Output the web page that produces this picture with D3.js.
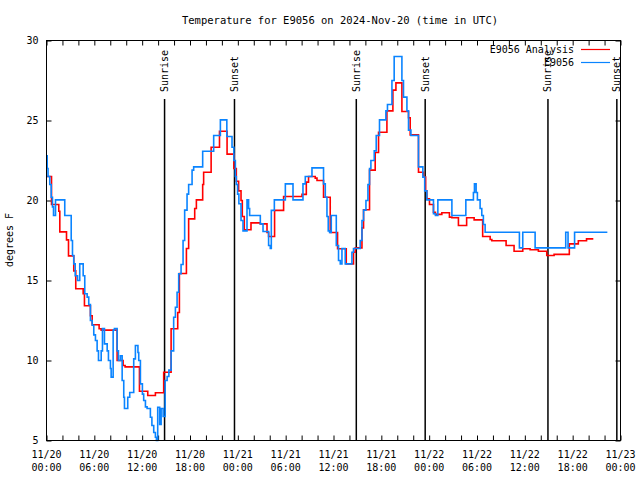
<!DOCTYPE html>
<html>
<head>
<meta charset="utf-8">
<script src="https://cdn.jsdelivr.net/npm/d3@7"></script>
<style>
  body { margin: 0; background: #fff; }
  svg { display: block; }
</style>
</head>
<body>
<svg id="chart" width="640" height="480"></svg>
<script>
// hours since 2024-11-20 00:00 UTC
const anaHours = [0, 0.63, 1.54, 1.67, 2.51, 2.76, 3.42, 3.67, 4.6, 4.76, 5.51, 5.73, 6.6, 6.86, 8.86, 9.61, 9.86,
    11.66, 12.7, 13.66, 14.7, 15.63, 16.46, 16.67, 17.55, 17.83, 18.59, 18.8, 19.59, 19.71, 20.65, 21.7, 22.65,
    23.5, 23.81, 24.1, 24.4, 24.56, 24.81, 25.65, 26.82, 27.66, 27.86, 28.61, 29.74, 32.05, 32.59, 32.87, 33.71,
    33.93, 34.75, 35.59, 36.51, 37.6, 38.51, 38.73, 39.57, 39.77, 40.52, 41.23, 41.65, 42.7, 43.45, 43.83, 44.58,
    45.41, 45.62, 46.66, 47.29, 47.56, 47.71, 48.04, 48.54, 48.79, 49.59, 50.54, 50.85, 51.67, 52.7, 53.64, 54.71,
    55.65, 55.86, 57.65, 58.65, 59.74, 60.66, 61.7, 62.75, 63.67, 65.58, 66.71, 67.74, 68.59]
const anaTemps = [21.5, 19.75, 19.33, 18.04, 17.54, 16.54, 15.6, 14.48, 14.17, 13.42, 12.8, 12.23, 11.98, 11.9, 10.0, 9.69, 9.6,
    8.08, 7.81, 7.98, 9.27, 11.98, 13.0, 15.44, 17.0, 18.85, 19.5, 20.04, 21.0, 21.77, 23.33, 24.33, 22.9,
    22.0, 21.2, 20.6, 20.0, 19.0, 18.17, 18.6, 18.54, 18.0, 17.75, 19.38, 20.25, 20.38, 21.15, 21.5, 21.4,
    21.25, 20.2, 18.0, 16.98, 16.04, 16.77, 17.04, 18.29, 19.42, 21.9, 23.0, 24.27, 25.6, 26.9, 27.35, 25.56,
    25.17, 24.1, 21.77, 21.46, 20.6, 20.1, 19.75, 19.27, 19.13, 19.23, 18.96, 18.92, 18.44, 18.92, 18.79, 17.75,
    17.56, 17.48, 17.19, 16.83, 16.98, 16.92, 16.83, 16.56, 16.63, 17.29, 17.48, 17.6, 17.6]

const obsHours = [0, 0.09, 0.19, 0.41, 0.59, 0.75, 0.88, 1.13, 2.29, 3.1, 3.26, 3.42, 3.6, 3.89, 4.17, 4.6, 4.8, 5.1,
    5.3, 5.51, 5.73, 5.93, 6.14, 6.35, 6.52, 6.86, 7.02, 7.27, 7.61, 7.77, 8.02, 8.11, 8.36, 8.52, 8.86, 9.02, 9.27,
    9.49, 9.69, 9.78, 10.19, 10.44, 10.94, 11.15, 11.47, 11.57, 11.78, 12.03, 12.19, 12.41, 12.62, 13.03, 13.22,
    13.45, 13.66, 13.79, 13.95, 14.2, 14.38, 14.63, 14.88, 15.13, 15.35, 15.63, 15.95, 16.17, 16.38, 16.58, 16.88,
    17.13, 17.33, 17.63, 17.83, 18.26, 18.46, 19.59, 20.97, 21.81, 22.62, 23.27, 23.5, 23.69, 23.81, 23.97, 24.13,
    24.4, 24.65, 25.15, 25.35, 25.48, 26.82, 27.16, 27.86, 28.07, 28.2, 28.58, 29.96, 30.92, 32.17, 32.46, 33.3,
    34.75, 34.97, 35.18, 35.34, 35.51, 35.72, 36.35, 36.63, 36.85, 37.06, 37.47, 38.31, 38.51, 39.35, 39.57, 39.77,
    40.07, 40.32, 40.52, 40.69, 41.11, 41.36, 41.77, 42.57, 42.77, 43.33, 43.61, 44.58, 44.78, 45.21, 45.41, 45.71,
    46.66, 47.21, 47.44, 47.71, 48.54, 48.79, 49.09, 50.85, 52.6, 53.55, 53.68, 53.89, 54.05, 54.39, 54.6, 54.8,
    55.02, 59.32, 59.74, 61.29, 65.13, 65.42, 66.24, 70.35]
const obsTemps = [22.8, 22.0, 21.5, 21.0, 20.2, 19.6, 19.06, 20.04, 19.06, 17.5, 16.56, 16.04, 15.3, 15.0, 16.04, 15.3, 14.17, 13.96,
    13.5, 12.5, 12.2, 11.6, 11.25, 10.6, 10.0, 10.6, 12.0, 11.04, 10.6, 10.0, 9.5, 8.96, 11.9, 12.0, 10.6, 10.0, 10.3,
    8.75, 7.7, 7.0, 7.7, 8.0, 10.1, 10.94, 10.5, 10.0, 8.54, 7.9, 7.5, 7.1, 7.0, 6.45, 5.94,
    5.5, 5.2, 5.0, 7.08, 6.0, 7.0, 6.5, 8.75, 9.0, 9.4, 10.6, 12.7, 13.33, 14.27, 15.42, 16.0,
    17.5, 19.4, 20.4, 21.0, 21.9, 22.1, 23.08, 24.06, 25.04, 24.0, 23.33, 22.5, 21.5, 21.0, 20.4, 19.8,
    18.75, 18.1, 20.04, 19.5, 19.06, 18.54, 18.06, 17.19, 17.0, 19.38, 20.04, 21.04, 20.04, 21.04, 21.5, 22.04,
    21.04, 20.2, 19.0, 18.1, 18.0, 19.06, 17.19, 16.25, 16.04, 17.0, 16.04, 16.77, 17.0, 17.5, 18.75, 19.4,
    20.0, 21.0, 22.0, 22.5, 23.1, 24.06, 25.04, 25.6, 26.0, 27.5, 29.0, 27.5, 26.46, 25.6, 24.4, 24.06,
    22.1, 21.46, 20.6, 20.04, 19.17, 19.06, 20.04, 19.06, 20.04, 20.5, 21.04, 20.5, 20.04, 19.5, 19.06, 18.5,
    18.02, 17.04, 18.02, 17.04, 18.02, 17.04, 18.02, 18.02]

const sunEvents = [
    {label: "Sunrise", hour: 14.81},
    {label: "Sunset", hour: 23.58},
    {label: "Sunrise", hour: 38.86},
    {label: "Sunset", hour: 47.5},
    {label: "Sunrise", hour: 62.9},
    {label: "Sunset", hour: 71.54}
]

const yTicks = [5, 10, 15, 20, 25, 30]

const font = "'DejaVu Sans Mono', monospace"
const start = Date.UTC(2024, 10, 20)
const toDate = h => new Date(start + h * 3600e3)

let svg = d3.select("#chart")

let x = d3.scaleUtc().domain([toDate(0), toDate(72)]).range([46.5, 620.5]),
    y = d3.scaleLinear().domain([5, 30]).range([440.5, 40.5])

let line = d3.line()
    .curve(d3.curveStepAfter)
    .x(d => x(toDate(d[0])))
    .y(d => y(d[1]))

// title
svg.append("text")
    .attr("x", 340)
    .attr("y", 24)
    .attr("text-anchor", "middle")
    .style("font-family", font)
    .style("font-size", "10.5px")
    .text("Temperature for E9056 on 2024-Nov-20 (time in UTC)")

// y label
svg.append("text")
    .attr("transform", "translate(13,240) rotate(-90)")
    .attr("text-anchor", "middle")
    .style("font-family", font)
    .style("font-size", "10px")
    .text("degrees F")

let xTicks = d3.range(0, 73, 2).map(toDate)

let xAxis = svg.append("g")
    .attr("transform", "translate(0,440.5)")
    .call(d3.axisBottom(x).tickValues(xTicks).tickSizeInner(-5).tickSizeOuter(0).tickFormat(""))
xAxis.select(".domain").remove()

svg.append("g")
    .attr("transform", "translate(0,40.5)")
    .call(d3.axisTop(x).tickValues(xTicks).tickSizeInner(-5).tickSizeOuter(0).tickFormat(""))
    .select(".domain").remove()

// two line time labels every 6 hours
let fmtDay = d3.utcFormat("%m/%d"), fmtTime = d3.utcFormat("%H:%M")
let xLabels = svg.append("g")
    .selectAll("text")
    .data(d3.range(0, 73, 6).map(toDate))
    .enter().append("text")
    .attr("x", d => x(d))
    .attr("text-anchor", "middle")
    .style("font-family", font)
    .style("font-size", "10px")
xLabels.append("tspan").attr("x", d => x(d)).attr("y", 457.5).text(d => fmtDay(d))
xLabels.append("tspan").attr("x", d => x(d)).attr("y", 471).text(d => fmtTime(d))

let yAxis = svg.append("g")
    .attr("transform", "translate(46.5,0)")
    .call(d3.axisLeft(y).tickValues(yTicks).tickSizeInner(-5).tickSizeOuter(0).tickPadding(8).tickFormat(d3.format("d")))
yAxis.select(".domain").remove()
yAxis.selectAll("text").style("font-family", font).style("font-size", "10px").attr("fill", "#000")

svg.append("g")
    .attr("transform", "translate(620.5,0)")
    .call(d3.axisRight(y).tickValues(yTicks).tickSizeInner(-5).tickSizeOuter(0).tickFormat(""))
    .select(".domain").remove()

svg.selectAll(".tick line").attr("stroke", "#000")

// sunrise / sunset markers
let sun = svg.append("g").selectAll("g")
    .data(sunEvents)
    .enter().append("g")

sun.append("line")
    .attr("x1", d => x(toDate(d.hour)))
    .attr("x2", d => x(toDate(d.hour)))
    .attr("y1", 99)
    .attr("y2", y(5))
    .attr("stroke", "#000")
    .attr("stroke-width", 1.5)

sun.append("text")
    .attr("transform", d => "translate(" + x(toDate(d.hour)) + ",92) rotate(-90)")
    .attr("dy", "0.35em")
    .style("font-family", font)
    .style("font-size", "10px")
    .text(d => d.label)

// series
let series = [
    {name: "E9056 Analysis", color: "#ff0000", values: anaHours.map((h, i) => [h, anaTemps[i]])},
    {name: "E9056", color: "#0a84ff", values: obsHours.map((h, i) => [h, obsTemps[i]])}
]

svg.append("g").selectAll("path")
    .data(series)
    .enter().append("path")
    .attr("d", d => line(d.values))
    .style("fill", "none")
    .style("stroke", d => d.color)
    .style("stroke-width", 1.6)

// legend
let legend = svg.append("g").selectAll("g")
    .data(series)
    .enter().append("g")
    .attr("transform", (d, i) => "translate(0," + (49.5 + i * 13) + ")")

legend.append("text")
    .attr("x", 574)
    .attr("dy", "0.35em")
    .attr("text-anchor", "end")
    .style("font-family", font)
    .style("font-size", "10px")
    .text(d => d.name)

legend.append("line")
    .attr("x1", 581)
    .attr("x2", 610)
    .attr("stroke", d => d.color)
    .attr("stroke-width", 1.2)

// frame
svg.append("rect")
    .attr("x", 46.5)
    .attr("y", 40.5)
    .attr("width", 574)
    .attr("height", 400)
    .attr("fill", "none")
    .attr("stroke", "#000")
</script>
</body>
</html>
